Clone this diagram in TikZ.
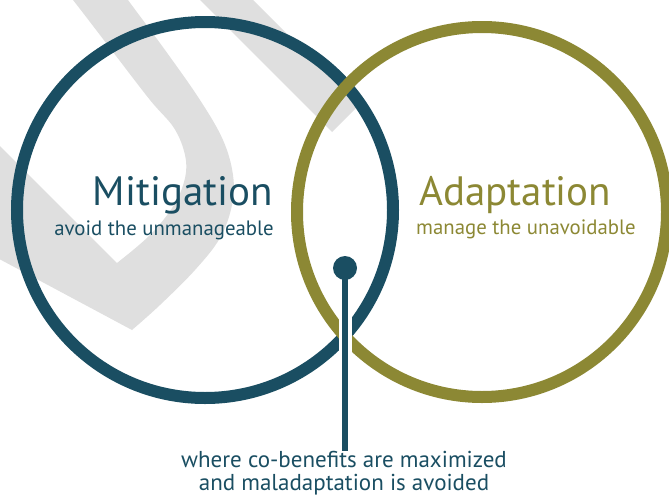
\documentclass[tikz,border=0pt]{standalone}
\usepackage{fontspec}
\setmainfont{PT Sans}
\definecolor{mteal}{HTML}{1A4E62}
\definecolor{molive}{HTML}{8C8834}
\definecolor{mgrey}{HTML}{DFDFDF}
\begin{document}
\begin{tikzpicture}[x=1pt,y=-1pt,
  ring/.style={line width=12pt},
  bigtitle/.style={font=\fontsize{41}{41}\selectfont, inner sep=0pt},
  subtitle/.style={font=\fontsize{20.8}{21}\selectfont, inner sep=0pt},
  bottomtext/.style={font=\fontsize{23}{22.5}\selectfont, text=mteal, inner sep=0pt, align=center, anchor=base},
  dotnode/.style={circle, fill=mteal, minimum size=24pt, inner sep=0pt}]
\useasboundingbox (0,0) rectangle (669,498);
\clip (0,0) rectangle (669,498);
% background watermark shapes
\fill[mgrey] (-40,106) -- (117,263)
  -- plot[smooth, tension=0.6] coordinates {(117,263) (150,235) (174,205) (185,178) (185,155) (174,128) (150,100) (113,52) (73,0) (60,-15)}
  -- (118,-15)
  -- plot[smooth, tension=0.6] coordinates {(118,-15) (128,0) (165,50) (200,100) (223,140) (233,175) (232,205) (220,238) (195,270) (160,305) (132,330)}
  -- (-40,238) -- cycle;
\fill[mgrey] (185,-15) -- (238,-15) -- (358.5,105.5) -- (332,132) -- cycle;
% circles
\draw[ring, mteal] (205,210) circle[radius=188];
\draw[ring, molive] (482,212) circle[radius=185];
% connector
\coordinate (lineend) at (345,451);
\coordinate (dotc) at (345,268);
\draw[white, line width=13pt] (dotc) -- (lineend);
\draw[mteal, line width=6pt] (dotc) -- (lineend);
\node[dotnode] (dot) at (dotc) {};
% texts
\node[bigtitle, text=mteal, anchor=base east] (mit) at (273,205) {Mitigation};
\node[subtitle, text=mteal, anchor=base east] (mitsub) at (274,235) {avoid the unmanageable};
\node[bigtitle, text=molive, anchor=base west] (ada) at (419,205) {Adaptation};
\node[subtitle, text=molive, anchor=base west] (adasub) at (416,234) {manage the unavoidable};
\node[bottomtext] (bot) at (344,490) {where co-benefits are maximized\\and maladaptation is avoided};
\end{tikzpicture}
\end{document}
